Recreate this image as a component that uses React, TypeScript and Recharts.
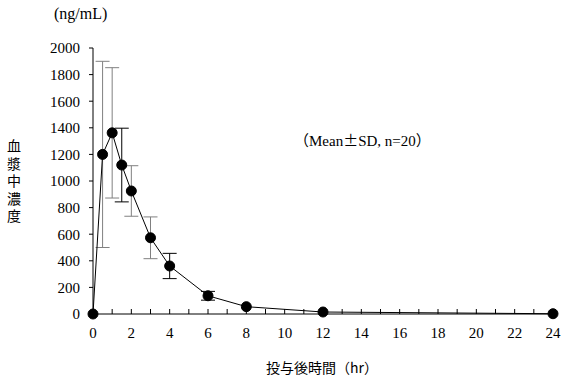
import { LineChart, Line, XAxis, YAxis, ErrorBar } from "recharts";

// 投与後時間 (hr) and plasma concentration (ng/mL)
const hours = [0, 0.5, 1, 1.5, 2, 3, 4, 6, 8, 12, 24];
const meanConc = [0, 1200, 1362, 1120, 925, 573, 361, 137, 55, 15, 2];
// SD bars: the reference draws some grey and some black
const sdGrey = [null, 700, 490, null, 190, 157, null, null, null, null, null];
const sdBlack = [null, null, null, 277, null, null, 95, 33, null, null, null];

const xTicks = [...Array(25).keys()];
const yTicks = [0, 200, 400, 600, 800, 1000, 1200, 1400, 1600, 1800, 2000];

const data = hours.map((h, i) => ({
  hr: h,
  conc: meanConc[i],
  sdGrey: sdGrey[i],
  sdBlack: sdBlack[i],
}));

const serif = "'Liberation Serif', 'DejaVu Serif', serif";
const gothic = "'Noto Sans CJK JP', 'Noto Sans', sans-serif";

export default function App() {
  return (
    <div style={{ position: "relative", width: 571, height: 383, background: "#fff" }}>
      <style>{`body{margin:0}`}</style>
      <LineChart
        width={571}
        height={383}
        data={data}
        margin={{ top: 48, right: 18, bottom: 39, left: 43 }}
      >
        <XAxis
          dataKey="hr"
          type="number"
          domain={[0, 24]}
          ticks={xTicks}
          interval={0}
          height={30}
          tickSize={-5}
          tickMargin={18}
          stroke="#000"
          tick={{ fontSize: 15, fill: "#000", fontFamily: serif }}
          tickFormatter={(v) => (v % 2 === 0 ? String(v) : "")}
        />
        <YAxis
          type="number"
          domain={[0, 2000]}
          ticks={yTicks}
          interval={0}
          width={50}
          tickSize={4}
          tickMargin={9}
          stroke="#000"
          tick={{ fontSize: 15, fill: "#000", fontFamily: serif }}
        />
        <Line
          dataKey="conc"
          stroke="#000"
          strokeWidth={1}
          dot={{ r: 5, fill: "#000", stroke: "#000" }}
          isAnimationActive={false}
        >
          <ErrorBar dataKey="sdGrey" width={7} stroke="#808080" strokeWidth={1} direction="y" />
          <ErrorBar dataKey="sdBlack" width={7} stroke="#000" strokeWidth={1} direction="y" />
        </Line>
      </LineChart>
      <div style={{ position: "absolute", left: 54, top: 5, fontFamily: serif, fontSize: 16 }}>
        (ng/mL)
      </div>
      <div style={{ position: "absolute", left: 294, top: 129, fontFamily: serif, fontSize: 15 }}>
        <span style={{ fontFamily: gothic }}>（</span>Mean
        <span style={{ fontFamily: gothic }}>±</span>SD, n=20
        <span style={{ fontFamily: gothic }}>）</span>
      </div>
      <svg
        width={30}
        height={120}
        style={{ position: "absolute", left: 0, top: 130 }}
      >
        <text
          x={14}
          y={9}
          fontFamily={gothic}
          fontSize={14}
          letterSpacing={3.5}
          style={{ writingMode: "vertical-rl" }}
        >
          血漿中濃度
        </text>
      </svg>
      <div style={{ position: "absolute", left: 266, top: 357, fontFamily: gothic, fontSize: 14 }}>
        投与後時間（hr）
      </div>
    </div>
  );
}
